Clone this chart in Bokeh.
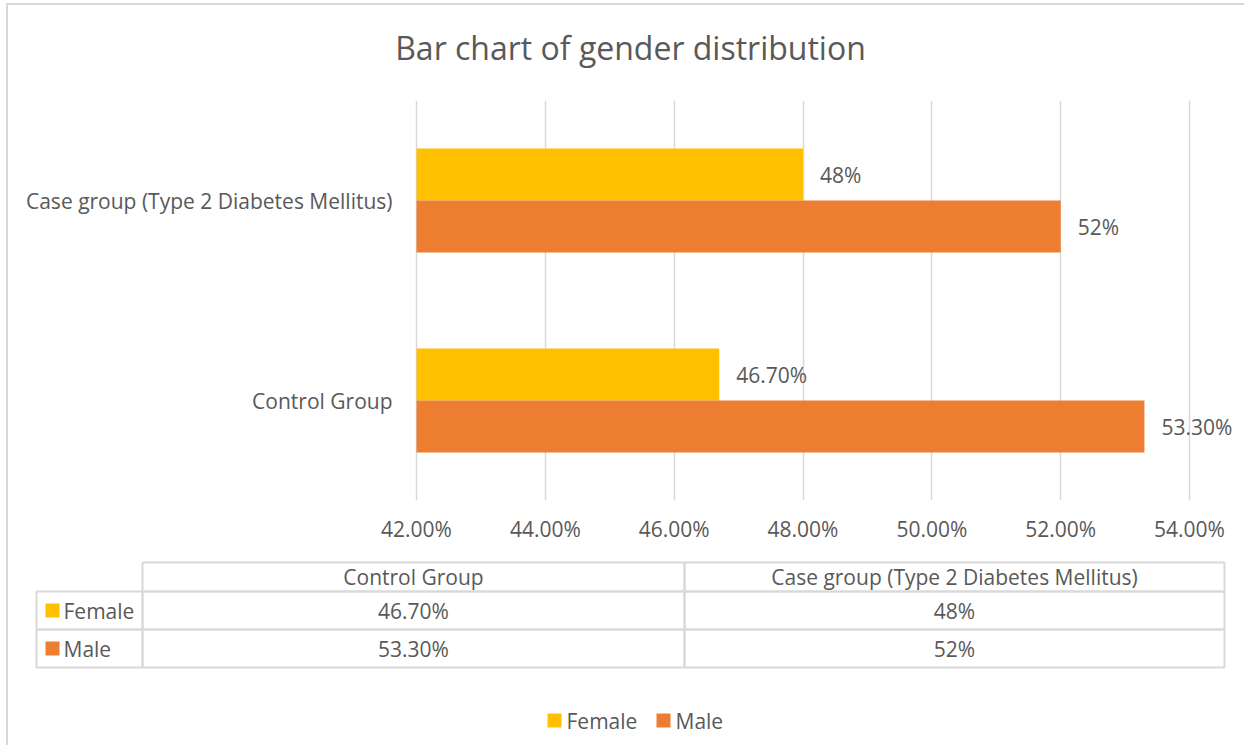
from bokeh.plotting import figure
from bokeh.layouts import column
from bokeh.models import (ColumnDataSource, FactorRange, Range1d, FixedTicker,
                          NumeralTickFormatter)
from bokeh.core.properties import value
from bokeh.transform import dodge
from bokeh.embed import file_html
from bokeh.resources import INLINE

# ---------------- data ----------------
title_text = "Bar chart of gender distribution"
groups = ["Control Group", "Case group (Type 2 Diabetes Mellitus)"]
series = ["Female", "Male"]
female = [0.467, 0.48]
male = [0.533, 0.52]
female_labels = ["46.70%", "48%"]
male_labels = ["53.30%", "52%"]
x_ticks = [0.42, 0.44, 0.46, 0.48, 0.50, 0.52, 0.54]
colors = ["#FFC000", "#ED7D31"]

# ---------------- style / layout (picture pixels) ----------------
FONT = "Open Sans"
TEXT = "#595959"
GRID = "#d9d9d9"
FS = "21px"
W = 1236
X0 = 8                      # content left
TOP_Y0, TOP_Y1 = 5, 100     # title strip
MAIN_Y1 = 548               # main chart strip bottom
BOT_Y1 = 745                # table/legend strip bottom
AX_L, AX_R, FRAME_B = 416, 1189, 500   # pixel positions of first/last tick

def pixel_fig(y_top, y_bot):
    f = figure(width=W, height=y_bot - y_top, x_range=Range1d(X0, X0 + W),
               y_range=Range1d(y_bot, y_top), x_axis_type=None, y_axis_type=None,
               output_backend="svg", toolbar_location=None, min_border=0, title=None)
    f.outline_line_color = None
    return f

def tstyle(**kw):
    d = dict(text_font=value(FONT), text_font_size=FS, text_color=TEXT,
             text_baseline="middle")
    d.update(kw)
    return d

# ---- title strip ----
ft = pixel_fig(TOP_Y0, TOP_Y1)
ft.text(x=[630], y=[47], text=[title_text], **tstyle(text_align="center", text_font_size="32px"))

# ---- main chart ----
span = x_ticks[-1] - x_ticks[0]
px_per_unit = (AX_R - AX_L) / span
x_start = x_ticks[0] - (AX_L - X0) / px_per_unit
x_end = x_ticks[-1] + (X0 + W - AX_R) / px_per_unit

src = ColumnDataSource(dict(group=groups, female=female, male=male,
                            fl=female_labels, ml=male_labels,
                            base=[x_ticks[0]] * len(groups)))

p = figure(width=W, height=MAIN_Y1 - TOP_Y1,
           y_range=FactorRange(factors=groups),
           x_range=Range1d(x_start, x_end), title=None, y_axis_location=None,
           output_backend="svg", toolbar_location=None,
           min_border_left=0, min_border_right=0,
           min_border_top=0, min_border_bottom=MAIN_Y1 - FRAME_B)

BAR_H = 0.26
yf = dodge("group", BAR_H / 2, range=p.y_range)
ym = dodge("group", -BAR_H / 2, range=p.y_range)
rf = p.hbar(y=yf, left="base", right="female", height=BAR_H, source=src,
            fill_color=colors[0], line_color=None)
rm = p.hbar(y=ym, left="base", right="male", height=BAR_H, source=src,
            fill_color=colors[1], line_color=None)

# value labels
p.text(x="female", y=yf, text="fl", source=src, x_offset=17, **tstyle(text_align="left"))
p.text(x="male", y=ym, text="ml", source=src, x_offset=17, **tstyle(text_align="left"))
# category labels (left of the value axis origin)
p.text(x="base", y="group", text="group", source=src, x_offset=-24,
       **tstyle(text_align="right"))

p.xaxis.ticker = FixedTicker(ticks=x_ticks)
p.xaxis.formatter = NumeralTickFormatter(format="0.00%")
p.xaxis.axis_line_color = None
p.xaxis.major_tick_line_color = None
p.xaxis.minor_tick_line_color = None
p.xaxis.major_tick_out = 0
p.xaxis.major_tick_in = 0
p.xaxis.major_label_text_font = FONT
p.xaxis.major_label_text_font_size = FS
p.xaxis.major_label_text_color = TEXT
p.xaxis.major_label_standoff = 14
p.xgrid.grid_line_color = GRID
p.xgrid.grid_line_width = 1.5
p.ygrid.grid_line_color = None
p.outline_line_color = None

# ---- data table + legend strip ----
fb = pixel_fig(MAIN_Y1, BOT_Y1)
col_edges = [36, 142, 684, 1224]
row_edges = [562, 591, 629, 667]
col_c = [(col_edges[j] + col_edges[j + 1]) / 2 for j in range(3)]
row_c = [(row_edges[i] + row_edges[i + 1]) / 2 for i in range(3)]

cl, cr, ct, cb = [], [], [], []
for j in range(1, 3):
    cl.append(col_edges[j]); cr.append(col_edges[j + 1]); ct.append(row_edges[0]); cb.append(row_edges[1])
for i in range(1, 3):
    for j in range(3):
        cl.append(col_edges[j]); cr.append(col_edges[j + 1]); ct.append(row_edges[i]); cb.append(row_edges[i + 1])
fb.quad(left=cl, right=cr, top=ct, bottom=cb, fill_color=None, line_color=GRID, line_width=2)

fb.text(x=col_c[1:], y=[row_c[0]] * len(groups), text=groups, **tstyle(text_align="center"))
for i, (name, labs) in enumerate(zip(series, [female_labels, male_labels])):
    yc = row_c[i + 1]
    fb.rect(x=[52], y=[yc], width=14, height=14, fill_color=colors[i], line_color=None)
    fb.text(x=[63], y=[yc], text=[name], **tstyle(text_align="left"))
    fb.text(x=col_c[1:], y=[yc] * len(labs), text=labs, **tstyle(text_align="center"))

# legend
leg_x = [547, 656]
leg_y = 720
for i, name in enumerate(series):
    fb.rect(x=[leg_x[i] + 7], y=[leg_y], width=14, height=14, fill_color=colors[i], line_color=None)
    fb.text(x=[leg_x[i] + 19], y=[leg_y], text=[name], **tstyle(text_align="left"))

layout = column(ft, p, fb, spacing=0, margin=(3, 0, 0, 6),
                styles={"border-left": "2px solid #d9d9d9", "border-top": "2px solid #d9d9d9"})

open("out.html", "w").write(file_html(layout, INLINE))
